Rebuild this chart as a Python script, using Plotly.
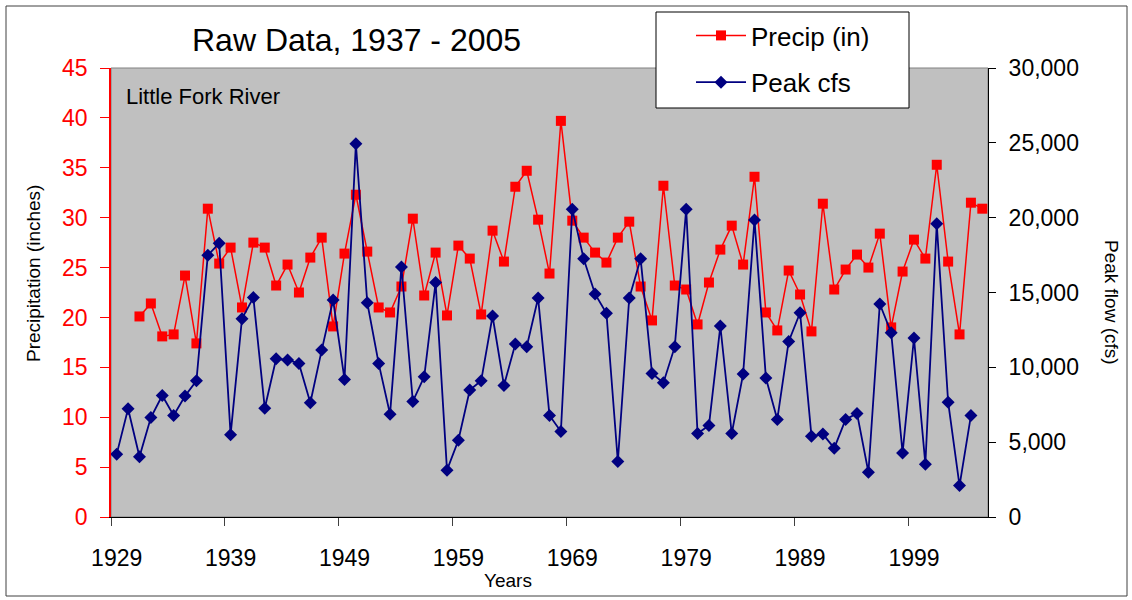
import plotly.graph_objects as go

# ---- data ----
cfs_years = list(range(1929, 2005))
peak_cfs = [4200, 7230, 4020, 6650, 8120, 6790, 8080, 9100, 17490, 18290,
            5490, 13250, 14660, 7270, 10570, 10490, 10260, 7630, 11150, 14500,
            9190, 24940, 14320, 10260, 6870, 16710, 7720, 9370, 15660, 3130,
            5130, 8480, 9100, 13430, 8790, 11560, 11380, 14630, 6780, 5710,
            20570, 17260, 14900, 13610, 3710, 14630, 17260, 9590, 8970, 11380,
            20570, 5580, 6120, 12760, 5580, 9550, 19850, 9280, 6520, 11730,
            13650, 5400, 5540, 4600, 6520, 6920, 2990, 14230, 12310, 4280,
            11960, 3530, 19590, 7670, 2100, 6780]

precip_years = list(range(1931, 2006))
precip_in = [20.1, 21.4, 18.1, 18.3, 24.2, 17.4, 30.9, 25.4, 27.0, 21.0,
             27.5, 27.0, 23.2, 25.3, 22.5, 26.0, 28.0, 19.1, 26.4, 32.3,
             26.6, 21.0, 20.5, 23.1, 29.9, 22.2, 26.5, 20.2, 27.2, 25.9,
             20.3, 28.7, 25.6, 33.1, 34.7, 29.8, 24.4, 39.7, 29.7, 28.0,
             26.5, 25.5, 28.0, 29.6, 23.1, 19.7, 33.2, 23.2, 22.8, 19.3,
             23.5, 26.8, 29.2, 25.3, 34.1, 20.5, 18.7, 24.7, 22.3, 18.6,
             31.4, 22.8, 24.8, 26.3, 25.0, 28.4, 19.0, 24.6, 27.8, 25.9,
             35.3, 25.6, 18.3, 31.5, 30.9]

tick_years = [1929, 1939, 1949, 1959, 1969, 1979, 1989, 1999]
tick_labels = [str(y) for y in tick_years]

FONT = "Liberation Sans, Arial, sans-serif"
W, H = 1132, 600
ML, MR, MT, MB = 111, 144, 68, 83
PW, PH = W - ML - MR, H - MT - MB


def xp(px):
    return (px - ML) / PW


def yp(py):
    return (H - MB - py) / PH


fig = go.Figure()
fig.add_trace(go.Scatter(
    x=precip_years, y=precip_in, name="Precip (in)", mode="lines+markers",
    line=dict(color="#FF0000", width=1.5),
    marker=dict(symbol="square", size=10, color="#FF0000"),
    legendgroup="a", yaxis="y"))
fig.add_trace(go.Scatter(
    x=cfs_years, y=peak_cfs, name="Peak cfs", mode="lines+markers",
    line=dict(color="#000080", width=1.8),
    marker=dict(symbol="diamond", size=10, color="#000080"),
    legendgroup="b", yaxis="y2"))

fig.update_layout(
    width=W, height=H,
    margin=dict(l=ML, r=MR, t=MT, b=MB, pad=0),
    paper_bgcolor="white", plot_bgcolor="#C0C0C0",
    font=dict(family=FONT, color="black"),
    showlegend=True,
    legend=dict(x=xp(691), y=yp(12), xanchor="left", yanchor="top",
                bgcolor="rgba(0,0,0,0)", borderwidth=0,
                font=dict(size=26, family=FONT), itemwidth=50,
                traceorder="grouped", tracegroupgap=10),
    xaxis=dict(range=[1928.5, 2005.5], tickmode="array", tickvals=tick_years,
               ticktext=tick_labels, ticks="", showgrid=False, zeroline=False,
               showline=True, linecolor="black", linewidth=1,
               tickfont=dict(size=23, family=FONT), ticklabelstandoff=20,
               minor=dict(tickmode="array", tickvals=[y - 0.5 for y in tick_years],
                          ticks="outside", ticklen=8, tickcolor="#404040",
                          showgrid=False)),
    yaxis=dict(range=[0, 45], dtick=5, tick0=0, showgrid=False, zeroline=False,
               showline=True, linecolor="#FF0000", linewidth=1.5,
               ticks="outside", ticklen=9, tickcolor="#FF0000",
               tickfont=dict(size=23, color="#FF0000", family=FONT),
               ticklabelstandoff=8),
    yaxis2=dict(range=[0, 30000], dtick=5000, tick0=0, overlaying="y",
                side="right", showgrid=False, zeroline=False, showline=True,
                linecolor="black", linewidth=1, ticks="outside", ticklen=7,
                tickcolor="black", tickformat=",",
                tickfont=dict(size=23, family=FONT), ticklabelstandoff=8),
    shapes=[
        dict(type="rect", xref="paper", yref="paper", x0=xp(6), x1=xp(1127),
             y0=yp(596), y1=yp(6), line=dict(color="#404040", width=1),
             layer="below"),
        dict(type="rect", xref="paper", yref="paper", x0=0, x1=1, y0=0, y1=1,
             line=dict(color="#808080", width=1), layer="below"),
        dict(type="rect", xref="paper", yref="paper", x0=xp(656), x1=xp(909),
             y0=yp(108), y1=yp(12), line=dict(color="black", width=1),
             fillcolor="white", layer="above"),
    ],
    annotations=[
        dict(text="Raw Data, 1937 - 2005", xref="paper", yref="paper",
             x=xp(356), y=yp(40), xanchor="center", yanchor="middle",
             showarrow=False, font=dict(size=32, family=FONT)),
        dict(text="Little Fork River", xref="paper", yref="paper",
             x=xp(124), y=yp(97), xanchor="left", yanchor="middle",
             showarrow=False, font=dict(size=22, family=FONT)),
        dict(text="Precipitation (inches)", xref="paper", yref="paper",
             x=xp(33), y=yp(274), xanchor="center", yanchor="middle",
             textangle=-90, showarrow=False, font=dict(size=19, family=FONT)),
        dict(text="Peak flow (cfs)", xref="paper", yref="paper",
             x=xp(1112), y=yp(302), xanchor="center", yanchor="middle",
             textangle=90, showarrow=False, font=dict(size=19, family=FONT)),
        dict(text="Years", xref="paper", yref="paper",
             x=xp(508), y=yp(580), xanchor="center", yanchor="middle",
             showarrow=False, font=dict(size=19, family=FONT)),
    ],
)

fig.write_html("out.html")
